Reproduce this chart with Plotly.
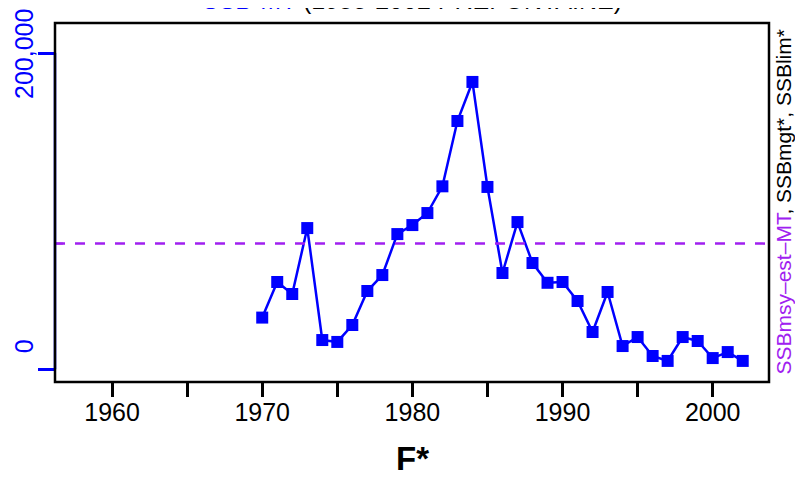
import plotly.graph_objects as go

years = list(range(1970, 2003))
ssb = [32700, 55200, 47600, 89300, 18500, 17300, 28000, 49500, 59600, 85500,
       91200, 98800, 115700, 157000, 181700, 115300, 60900, 93100, 67200, 54700,
       55200, 43200, 23600, 48900, 14700, 20400, 8400, 5300, 20400, 17900,
       7100, 10900, 5300]
ref_value = 79500
x_tick_vals = [1960, 1965, 1970, 1975, 1980, 1985, 1990, 1995, 2000]
x_tick_text = ["1960", "", "1970", "", "1980", "", "1990", "", "2000"]
y_tick_vals = [0, 200000]
y_tick_text = ["0", "200,000"]

FONT = "Liberation Sans, Arial, sans-serif"
BLUE = "#0000FF"
PURPLE = "#A020F0"

fig = go.Figure()
fig.add_trace(go.Scatter(
    x=years, y=ssb, mode="lines+markers",
    line=dict(color=BLUE, width=2.5),
    marker=dict(symbol="square", size=12, color=BLUE),
    showlegend=False, hoverinfo="skip"))

# reference line
fig.add_shape(type="line", xref="paper", yref="y", x0=0, x1=1,
              y0=ref_value, y1=ref_value,
              line=dict(color=PURPLE, width=2.5, dash="10px,10px"))
# small purple tick on left axis
fig.add_shape(type="line", xref="paper", yref="y", x0=0, x1=0.011,
              y0=ref_value, y1=ref_value, line=dict(color=PURPLE, width=2))
# blue y-axis line between ticks
fig.add_shape(type="line", xref="paper", yref="y", x0=0, x1=0,
              y0=y_tick_vals[0], y1=y_tick_vals[-1],
              line=dict(color=BLUE, width=2.5))
# box
fig.add_shape(type="rect", xref="paper", yref="paper", x0=0, x1=1, y0=0, y1=1,
              line=dict(color="black", width=2.5))

# y tick labels
fig.add_annotation(xref="paper", yref="y", x=0, y=y_tick_vals[1],
                   text=y_tick_text[1], textangle=-90, showarrow=False,
                   xanchor="center", yanchor="middle", xshift=-31, yshift=-1,
                   font=dict(family=FONT, size=25, color=BLUE))
fig.add_annotation(xref="paper", yref="y", x=0, y=y_tick_vals[0],
                   text=y_tick_text[0], textangle=-90, showarrow=False,
                   xanchor="center", yanchor="middle", xshift=-31, yshift=23,
                   font=dict(family=FONT, size=25, color=BLUE))

# title
fig.add_annotation(xref="paper", yref="paper", x=0.5, y=1,
                   text="<span style='color:#0000FF'>SSB-MT</span> (1958-2002 PREFONTAINE)",
                   showarrow=False, xanchor="center", yanchor="bottom", yshift=7,
                   font=dict(family=FONT, size=25, color="black"))
# right label
fig.add_annotation(xref="paper", yref="paper", x=1, y=0.5,
                   text="<span style='color:#A020F0'>SSBmsy\u2013est\u2013MT</span>, SSBmgt*, SSBlim*",
                   textangle=-90, showarrow=False, xanchor="center", yanchor="middle",
                   xshift=14, font=dict(family=FONT, size=21, color="black"))
# x axis title
fig.add_annotation(xref="paper", yref="paper", x=0.5, y=0,
                   text="<b>F*</b>", showarrow=False, xanchor="center", yanchor="middle",
                   yshift=-76, font=dict(family=FONT, size=33, color="black"))

fig.update_xaxes(range=[1956.2, 2003.75], tickmode="array", tickvals=x_tick_vals,
                 ticktext=x_tick_text, ticks="outside", ticklen=14, tickwidth=2.5,
                 tickcolor="black", showgrid=False, zeroline=False, showline=False,
                 ticklabelstandoff=-6,
                 tickfont=dict(family=FONT, size=25, color="black"))
fig.update_yaxes(range=[-8030, 218970], tickmode="array", tickvals=y_tick_vals,
                 ticks="outside", ticklen=16, tickwidth=2.5, tickcolor=BLUE,
                 showticklabels=False, showgrid=False, zeroline=False, showline=False)
# the page body adds an 8px margin, so the figure is 8px smaller on each axis
fig.update_layout(width=795, height=469, margin=dict(l=47, r=34, t=15, b=95),
                  plot_bgcolor="white", paper_bgcolor="white",
                  font=dict(family=FONT))
fig.write_html("out.html")
